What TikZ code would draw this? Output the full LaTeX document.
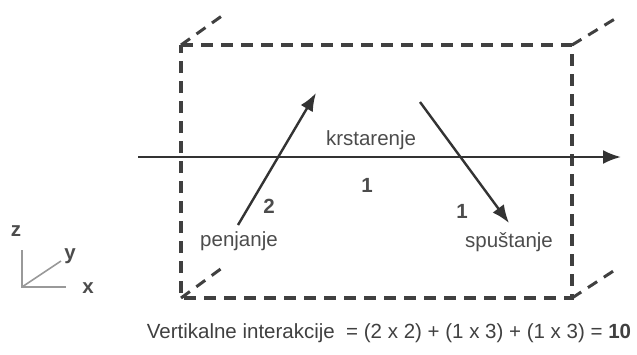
\documentclass[tikz,border=0pt]{standalone}
\usepackage{fontspec}
\setmainfont{Liberation Sans}
\usetikzlibrary{positioning, arrows.meta}

\begin{document}
\begin{tikzpicture}
    [
        x=1pt, y=-1pt,
        edge/.style = {draw=black!75, line width=3.6pt, dash pattern=on 12pt off 8pt},
        back/.style = {edge, line width=3pt, dash pattern=on 11pt off 8pt},
        route/.style = {draw=black!80, line width=2.4pt, -{Latex[length=18pt, width=14pt]}},
        lbl/.style = {text=black!70, inner sep=1pt, font=\fontsize{20.5}{24}\selectfont},
        num/.style = {lbl, font=\fontsize{20.5}{24}\selectfont\bfseries},
        axis/.style = {draw=black!40, line width=1.6pt},
    ]
    \useasboundingbox (0,0) rectangle (637,354);

    % front face of the sector
    \coordinate (tl) at (181,45);
    \coordinate (tr) at (572,45);
    \coordinate (br) at (572,298);
    \coordinate (bl) at (181,298);
    % back edges
    \coordinate (tlb) at (226,13);
    \coordinate (trb) at (618,17);
    \coordinate (blb) at (222,268);
    \coordinate (brb) at (618,268);

    \draw [edge] (tl) -- (tr) -- (br) -- (bl) -- cycle;
    \foreach \i in {tl, tr, bl, br} \draw [back] (\i) -- (\i b);

    % flight paths
    \coordinate (cruiseA) at (138,157);
    \coordinate (cruiseB) at (621,157);
    \coordinate (climbA) at (238,225);
    \coordinate (climbB) at (316,93);
    \coordinate (descA) at (420,102);
    \coordinate (descB) at (509,223);

    \draw [route] (cruiseA) -- (cruiseB);
    \draw [route] (climbA) -- (climbB);
    \draw [route] (descA) -- (descB);

    \node [lbl] (cruise) at (371,140) {krstarenje};
    \node [num] (ncruise) at (367,185) {1};
    \node [lbl] (climb) at (239,241) {penjanje};
    \node [num] (nclimb) at (269,206) {2};
    \node [lbl] (desc) at (509,242) {spuštanje};
    \node [num] (ndesc) at (462,211) {1};

    % axes
    \coordinate (o) at (22,287);
    \coordinate (oz) at (22,250);
    \coordinate (ox) at (66,287);
    \coordinate (oy) at (61,261);
    \draw [axis] (oz) -- (o) -- (ox);
    \draw [axis] (o) -- (oy);
    \node [num] (lz) at (16,231) {z};
    \node [num] (ly) at (70,256) {y};
    \node [num] (lx) at (88,288) {x};

    \node [lbl, text=black!75] (sum) at (389,333)
        {Vertikalne interakcije ~= (2 x 2) + (1 x 3) + (1 x 3) = \textbf{10}};
\end{tikzpicture}
\end{document}
